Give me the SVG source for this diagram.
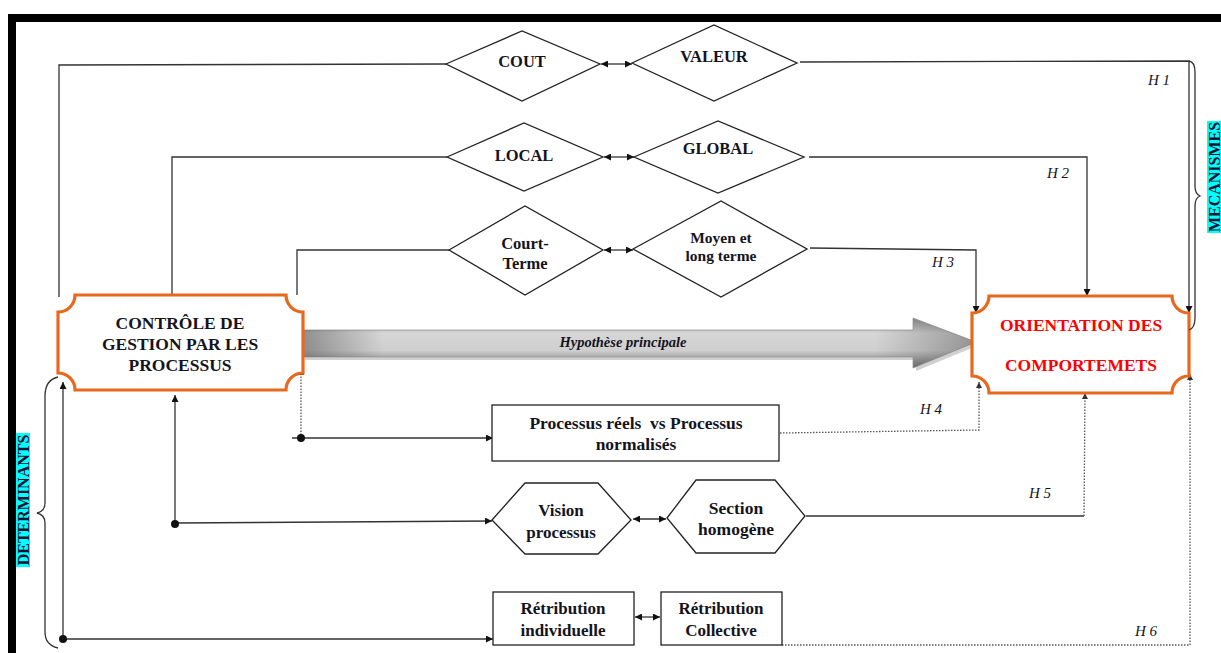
<svg xmlns="http://www.w3.org/2000/svg" width="1221" height="653" viewBox="0 0 1221 653">
  <defs>
    <marker id="ah" viewBox="0 0 10 10" refX="10" refY="5" markerWidth="7" markerHeight="7" markerUnits="userSpaceOnUse" orient="auto-start-reverse">
      <path d="M0,0 L10,5 L0,10 Z" fill="#111"/>
    </marker>
    <marker id="ahs" viewBox="0 0 10 10" refX="10" refY="5" markerWidth="6" markerHeight="6" markerUnits="userSpaceOnUse" orient="auto-start-reverse">
      <path d="M0,0 L10,5 L0,10 Z" fill="#333"/>
    </marker>
    <linearGradient id="shaft" x1="0" y1="0" x2="0" y2="1">
      <stop offset="0" stop-color="#8c8c8c"/>
      <stop offset="0.3" stop-color="#d6d6d6"/>
      <stop offset="0.65" stop-color="#cfcfcf"/>
      <stop offset="1" stop-color="#6a6a6a"/>
    </linearGradient>
    <linearGradient id="shade" x1="0" y1="0" x2="1" y2="0">
      <stop offset="0" stop-color="#555" stop-opacity="0.55"/>
      <stop offset="0.12" stop-color="#555" stop-opacity="0"/>
      <stop offset="0.85" stop-color="#555" stop-opacity="0"/>
      <stop offset="1" stop-color="#444" stop-opacity="0.45"/>
    </linearGradient>
  </defs>
  <style>
    .ln{fill:none;stroke:#333;stroke-width:1.3}
    .dot{fill:none;stroke:#555;stroke-width:1.3;stroke-dasharray:1.5 1.5}
    .shape{fill:#fff;stroke:#222;stroke-width:1.3}
    .plaque{fill:#fff;stroke:#E8691E;stroke-width:3.2}
    .t{font-family:"Liberation Serif","Times New Roman",serif;font-weight:bold;fill:#141420;text-anchor:middle}
    .big{font-size:17.5px}
    .mid{font-size:17px}
    .dia{font-size:16.5px}
    .h{font-family:"Liberation Serif","Times New Roman",serif;font-style:italic;font-size:15px;fill:#141420}
    .side{font-family:"Liberation Serif","Times New Roman",serif;font-weight:bold;font-size:16px;fill:#101030;text-anchor:middle}
    .bullet{fill:#111}
  </style>

  <rect width="1221" height="653" fill="#fff"/>
  <!-- outer frame -->
  <path d="M12,653 V18 H1225" fill="none" stroke="#000" stroke-width="8"/>

  <!-- connectors -->
  <g id="connectors">
    <!-- H1 -->
    <polyline class="ln" points="59,297 59,65 446,64"/>
    <polyline class="ln" points="800,62 1189,61 1189,313" marker-end="url(#ah)"/>
    <line class="ln" x1="601" y1="64" x2="632" y2="64" marker-start="url(#ah)" marker-end="url(#ah)"/>
    <!-- H2 -->
    <polyline class="ln" points="172,295 172,157 447,157"/>
    <polyline class="ln" points="809,157 1087,157 1087,296" marker-end="url(#ah)"/>
    <line class="ln" x1="604" y1="157" x2="634" y2="157" marker-start="url(#ah)" marker-end="url(#ah)"/>
    <!-- H3 -->
    <polyline class="ln" points="297,295 297,250 449,250"/>
    <polyline class="ln" points="810,248 976,250 976,313" marker-end="url(#ah)"/>
    <line class="ln" x1="604" y1="250" x2="633" y2="250" marker-start="url(#ah)" marker-end="url(#ah)"/>
    <!-- H4 -->
    <line class="dot" x1="301" y1="438" x2="301" y2="369" marker-end="url(#ahs)"/>
    <line class="ln" x1="292" y1="438" x2="493" y2="438" marker-end="url(#ah)"/>
    <polyline class="dot" points="780,433 979,430 979,382" marker-end="url(#ahs)"/>
    <!-- H5 -->
    <line class="ln" x1="175" y1="524" x2="175" y2="395" marker-end="url(#ah)"/>
    <line class="ln" x1="175" y1="523" x2="492" y2="521" marker-end="url(#ah)"/>
    <line class="ln" x1="633" y1="519" x2="666" y2="519" marker-start="url(#ah)" marker-end="url(#ah)"/>
    <line class="ln" x1="806" y1="516" x2="1084" y2="516"/>
    <line class="dot" x1="1084" y1="516" x2="1085" y2="393" marker-end="url(#ahs)"/>
    <!-- H6 -->
    <line class="ln" x1="63" y1="639" x2="63" y2="382" marker-end="url(#ah)"/>
    <line class="ln" x1="63" y1="639" x2="493" y2="639" marker-end="url(#ah)"/>
    <line class="ln" x1="635" y1="617" x2="660" y2="617" marker-start="url(#ah)" marker-end="url(#ah)"/>
    <polyline class="dot" points="782,645 1190,645 1190,374" marker-end="url(#ahs)"/>
    <!-- junction bullets -->
    <circle class="bullet" cx="301" cy="438" r="4"/>
    <circle class="bullet" cx="175" cy="524" r="4"/>
    <circle class="bullet" cx="63" cy="639" r="4"/>
  </g>

  <!-- hypothesis labels -->
  <g id="hypotheses">
    <text class="h" x="1148" y="85">H 1</text>
    <text class="h" x="1047" y="178">H 2</text>
    <text class="h" x="932" y="267">H 3</text>
    <text class="h" x="920" y="414">H 4</text>
    <text class="h" x="1029" y="498">H 5</text>
    <text class="h" x="1135" y="636">H 6</text>
  </g>

  <!-- main hypothesis arrow -->
  <g id="hypothese-principale">
    <polygon points="305,333 916,333 916,321 979,345 916,371 916,360 305,360" fill="#777" opacity="0.35"/>
    <polygon points="302,330 913,330 913,318 976,342 913,368 913,357 302,357" fill="url(#shaft)" stroke="#9a9a9a" stroke-width="0.8"/>
    <polygon points="302,330 913,330 913,318 976,342 913,368 913,357 302,357" fill="url(#shade)"/>
    <text x="623" y="347" font-family="Liberation Serif, Times New Roman, serif" font-style="italic" font-weight="bold" font-size="14.5" fill="#141420" text-anchor="middle">Hypothèse principale</text>
  </g>

  <!-- sources -->
  <g id="controle">
    <path class="plaque" d="M75,295 H286 A17,17 0 0 0 303,312 V373 A17,17 0 0 0 286,390 H75 A17,17 0 0 0 58,373 V312 A17,17 0 0 0 75,295 Z"/>
    <text class="t big" x="180" y="329">CONTRÔLE DE</text>
    <text class="t big" x="180" y="350">GESTION PAR LES</text>
    <text class="t big" x="180" y="371">PROCESSUS</text>
  </g>

  <g id="orientation">
    <path class="plaque" d="M989,296 H1172 A17,17 0 0 0 1189,313 V376 A17,17 0 0 0 1172,393 H989 A17,17 0 0 0 972,376 V313 A17,17 0 0 0 989,296 Z"/>
    <text class="t big" x="1081" y="331" style="fill:#F00">ORIENTATION DES</text>
    <text class="t big" x="1081" y="371" style="fill:#F00">COMPORTEMETS</text>
  </g>

  <!-- mechanisms -->
  <g id="cout">
    <polygon class="shape" points="446,64 522,31 600,64 522,101"/>
    <text class="t dia" x="522" y="67">COUT</text>
  </g>
  <g id="valeur">
    <polygon class="shape" points="632,63 714,25 797,63 714,101"/>
    <text class="t dia" x="714" y="62">VALEUR</text>
  </g>
  <g id="local">
    <polygon class="shape" points="447,157 524,123 603,157 524,191"/>
    <text class="t dia" x="524" y="161">LOCAL</text>
  </g>
  <g id="global">
    <polygon class="shape" points="634,157 718,121 804,157 718,193"/>
    <text class="t dia" x="718" y="154">GLOBAL</text>
  </g>
  <g id="court-terme">
    <polygon class="shape" points="449,250 525,206 603,250 525,295"/>
    <text class="t dia" x="525" y="249">Court-</text>
    <text class="t dia" x="525" y="269">Terme</text>
  </g>
  <g id="moyen-long-terme">
    <polygon class="shape" points="633,249 721,201 807,249 721,297"/>
    <text class="t" font-size="15.5" x="721" y="243">Moyen et</text>
    <text class="t" font-size="15.5" x="721" y="261">long terme</text>
  </g>

  <!-- determinants -->
  <g id="processus">
    <rect class="shape" x="492" y="405" width="287" height="56"/>
    <text class="t big" x="636" y="429" xml:space="preserve">Processus réels  vs Processus</text>
    <text class="t big" x="636" y="450">normalisés</text>
  </g>
  <g id="vision">
    <polygon class="shape" points="492,520 525,483 598,483 631,520 598,554 525,554"/>
    <text class="t mid" x="561" y="516">Vision</text>
    <text class="t mid" x="561" y="538">processus</text>
  </g>
  <g id="section">
    <polygon class="shape" points="667,518 696,480 775,480 805,516 775,553 696,553"/>
    <text class="t big" x="736" y="514">Section</text>
    <text class="t big" x="736" y="535">homogène</text>
  </g>
  <g id="retribution-individuelle">
    <rect class="shape" x="493" y="592" width="141" height="53"/>
    <text class="t mid" x="563" y="614">Rétribution</text>
    <text class="t mid" x="563" y="636">individuelle</text>
  </g>
  <g id="retribution-collective">
    <rect class="shape" x="661" y="592" width="121" height="53"/>
    <text class="t mid" x="721" y="614">Rétribution</text>
    <text class="t mid" x="721" y="636">Collective</text>
  </g>

  <!-- side braces and headings -->
  <g id="mecanismes">
    <path class="ln" d="M1189,61 Q1195,62 1195,72 V186 Q1195,194 1200,196 Q1195,198 1195,206 V318 Q1195,328 1189,330"/>
    <rect x="1207" y="121" width="16" height="112" fill="#0FF"/>
    <text class="side" transform="translate(1220,177) rotate(-90)">MECANISMES</text>
  </g>
  <g id="determinants">
    <path class="ln" d="M58,377 Q45,380 45,396 V503 Q45,511 37,513 Q45,515 45,523 V632 Q45,645 58,648"/>
    <rect x="16" y="433" width="14" height="134" fill="#0FF"/>
    <text class="side" transform="translate(28.5,500) rotate(-90)">DETERMINANTS</text>
  </g>
</svg>
